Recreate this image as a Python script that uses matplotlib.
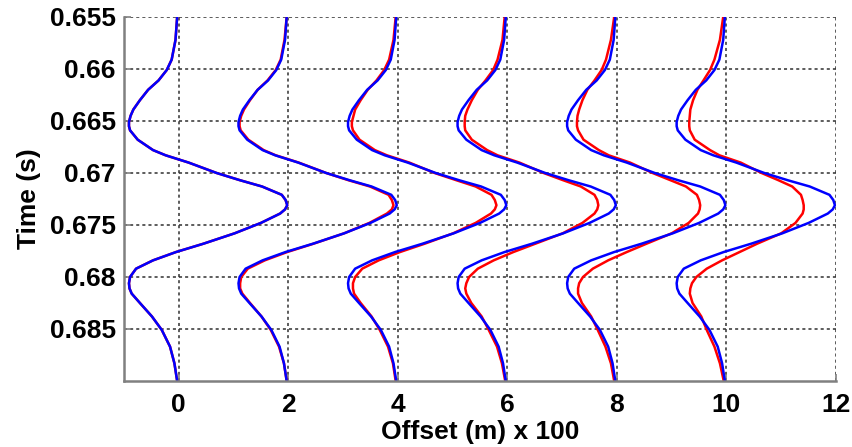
import numpy as np
import matplotlib.pyplot as plt

plt.rcParams['font.family'] = ['Liberation Sans', 'DejaVu Sans']
plt.rcParams['font.weight'] = 'bold'

# trace offsets (x100 m)
offsets = [0, 2, 4, 6, 8, 10]

# time samples (s)
t = [0.6550, 0.6572, 0.6591, 0.6601, 0.6611, 0.6620, 0.6630, 0.6639, 0.6645,
     0.6651, 0.6655, 0.6659, 0.6668, 0.6678, 0.6683, 0.6690, 0.6700, 0.6707,
     0.6713, 0.6721, 0.6726, 0.6731, 0.6735, 0.6739, 0.6748, 0.6758, 0.6768,
     0.6776, 0.6784, 0.6792, 0.6800, 0.6806, 0.6811, 0.6816, 0.6825, 0.6838,
     0.6851, 0.6867, 0.6883, 0.6900]

# blue wavelet (same at every offset)
blue = [-0.03, -0.06, -0.13, -0.22, -0.37, -0.56, -0.71, -0.83, -0.88,
        -0.91, -0.91, -0.89, -0.75, -0.47, -0.24, 0.18, 0.69, 1.12,
        1.52, 1.88, 1.95, 1.98, 1.94, 1.85, 1.50, 1.02, 0.45,
        -0.05, -0.47, -0.78, -0.89, -0.91, -0.90, -0.86, -0.71, -0.49,
        -0.31, -0.16, -0.08, -0.03]

# red wavelets, one per offset
red_0 = blue
red_2 = [-0.03, -0.07, -0.14, -0.23, -0.38, -0.56, -0.70, -0.81, -0.86,
         -0.89, -0.89, -0.87, -0.73, -0.45, -0.23, 0.19, 0.69, 1.10,
         1.49, 1.83, 1.89, 1.92, 1.89, 1.80, 1.48, 1.02, 0.46,
         -0.02, -0.43, -0.74, -0.86, -0.88, -0.88, -0.84, -0.70, -0.49,
         -0.32, -0.17, -0.08, -0.03]
red_4 = [-0.04, -0.08, -0.16, -0.25, -0.39, -0.55, -0.68, -0.78, -0.81,
         -0.84, -0.84, -0.82, -0.70, -0.42, -0.20, 0.21, 0.67, 1.07,
         1.42, 1.71, 1.77, 1.80, 1.77, 1.70, 1.42, 1.01, 0.49,
         0.04, -0.35, -0.65, -0.78, -0.82, -0.82, -0.80, -0.68, -0.48,
         -0.33, -0.18, -0.09, -0.04]
red_6 = [-0.05, -0.09, -0.18, -0.26, -0.40, -0.54, -0.65, -0.73, -0.77,
         -0.78, -0.78, -0.77, -0.65, -0.37, -0.18, 0.22, 0.66, 1.02,
         1.34, 1.59, 1.64, 1.66, 1.64, 1.59, 1.37, 1.01, 0.51,
         0.11, -0.25, -0.54, -0.70, -0.75, -0.77, -0.75, -0.66, -0.47,
         -0.34, -0.19, -0.10, -0.04]
red_8 = [-0.05, -0.11, -0.20, -0.28, -0.41, -0.54, -0.63, -0.69, -0.72,
         -0.73, -0.73, -0.71, -0.61, -0.33, -0.15, 0.24, 0.65, 0.98,
         1.26, 1.46, 1.50, 1.52, 1.51, 1.48, 1.31, 1.00, 0.54,
         0.18, -0.16, -0.44, -0.62, -0.69, -0.71, -0.71, -0.64, -0.47,
         -0.35, -0.21, -0.11, -0.05]
red_10 = [-0.06, -0.12, -0.22, -0.30, -0.42, -0.53, -0.61, -0.66, -0.67,
          -0.68, -0.68, -0.67, -0.58, -0.30, -0.13, 0.26, 0.64, 0.95,
          1.20, 1.36, 1.39, 1.41, 1.41, 1.39, 1.26, 1.00, 0.56,
          0.24, -0.08, -0.36, -0.55, -0.63, -0.66, -0.67, -0.62, -0.46,
          -0.36, -0.22, -0.12, -0.05]
reds = [red_0, red_2, red_4, red_6, red_8, red_10]

xticks = [0, 2, 4, 6, 8, 10, 12]
yticks = [0.655, 0.66, 0.665, 0.67, 0.675, 0.68, 0.685]
ytick_labels = ['0.655', '0.66', '0.665', '0.67', '0.675', '0.68', '0.685']

fig = plt.figure(figsize=(8.53, 4.47), dpi=100)
ax = fig.add_axes([0.1454, 0.1477, 0.8347, 0.8143])

tt = np.array(t)
for off, r in zip(offsets, reds):
    ax.plot(off + np.array(r), tt, color='#ff0000', lw=1.8,
            solid_joinstyle='round')
for off in offsets:
    ax.plot(off + np.array(blue), tt, color='#0000ff', lw=1.8,
            solid_joinstyle='round')

ax.set_xlim(-1, 12)
ax.set_ylim(0.69, 0.655)
ax.set_xticks(xticks)
ax.set_xticklabels([str(v) for v in xticks])
ax.set_yticks(yticks)
ax.set_yticklabels(ytick_labels)

ax.grid(True, color='#303030', linestyle=(0, (2, 2)), linewidth=1.1)
ax.set_axisbelow(True)

for side in ['top', 'right']:
    ax.spines[side].set_visible(False)
for side in ['left', 'bottom']:
    ax.spines[side].set_color('#808080')
    ax.spines[side].set_linewidth(1.8)

ax.tick_params(direction='in', length=5, width=1.2, color='#808080',
               labelsize=19, pad=6)
ax.tick_params(axis='x', pad=9)

ax.set_xlabel('Offset (m) x 100', fontsize=19, fontweight='bold', labelpad=2)
ax.set_ylabel('Time (s)', fontsize=19, fontweight='bold', labelpad=6)

fig.savefig('out.png', dpi=100)
